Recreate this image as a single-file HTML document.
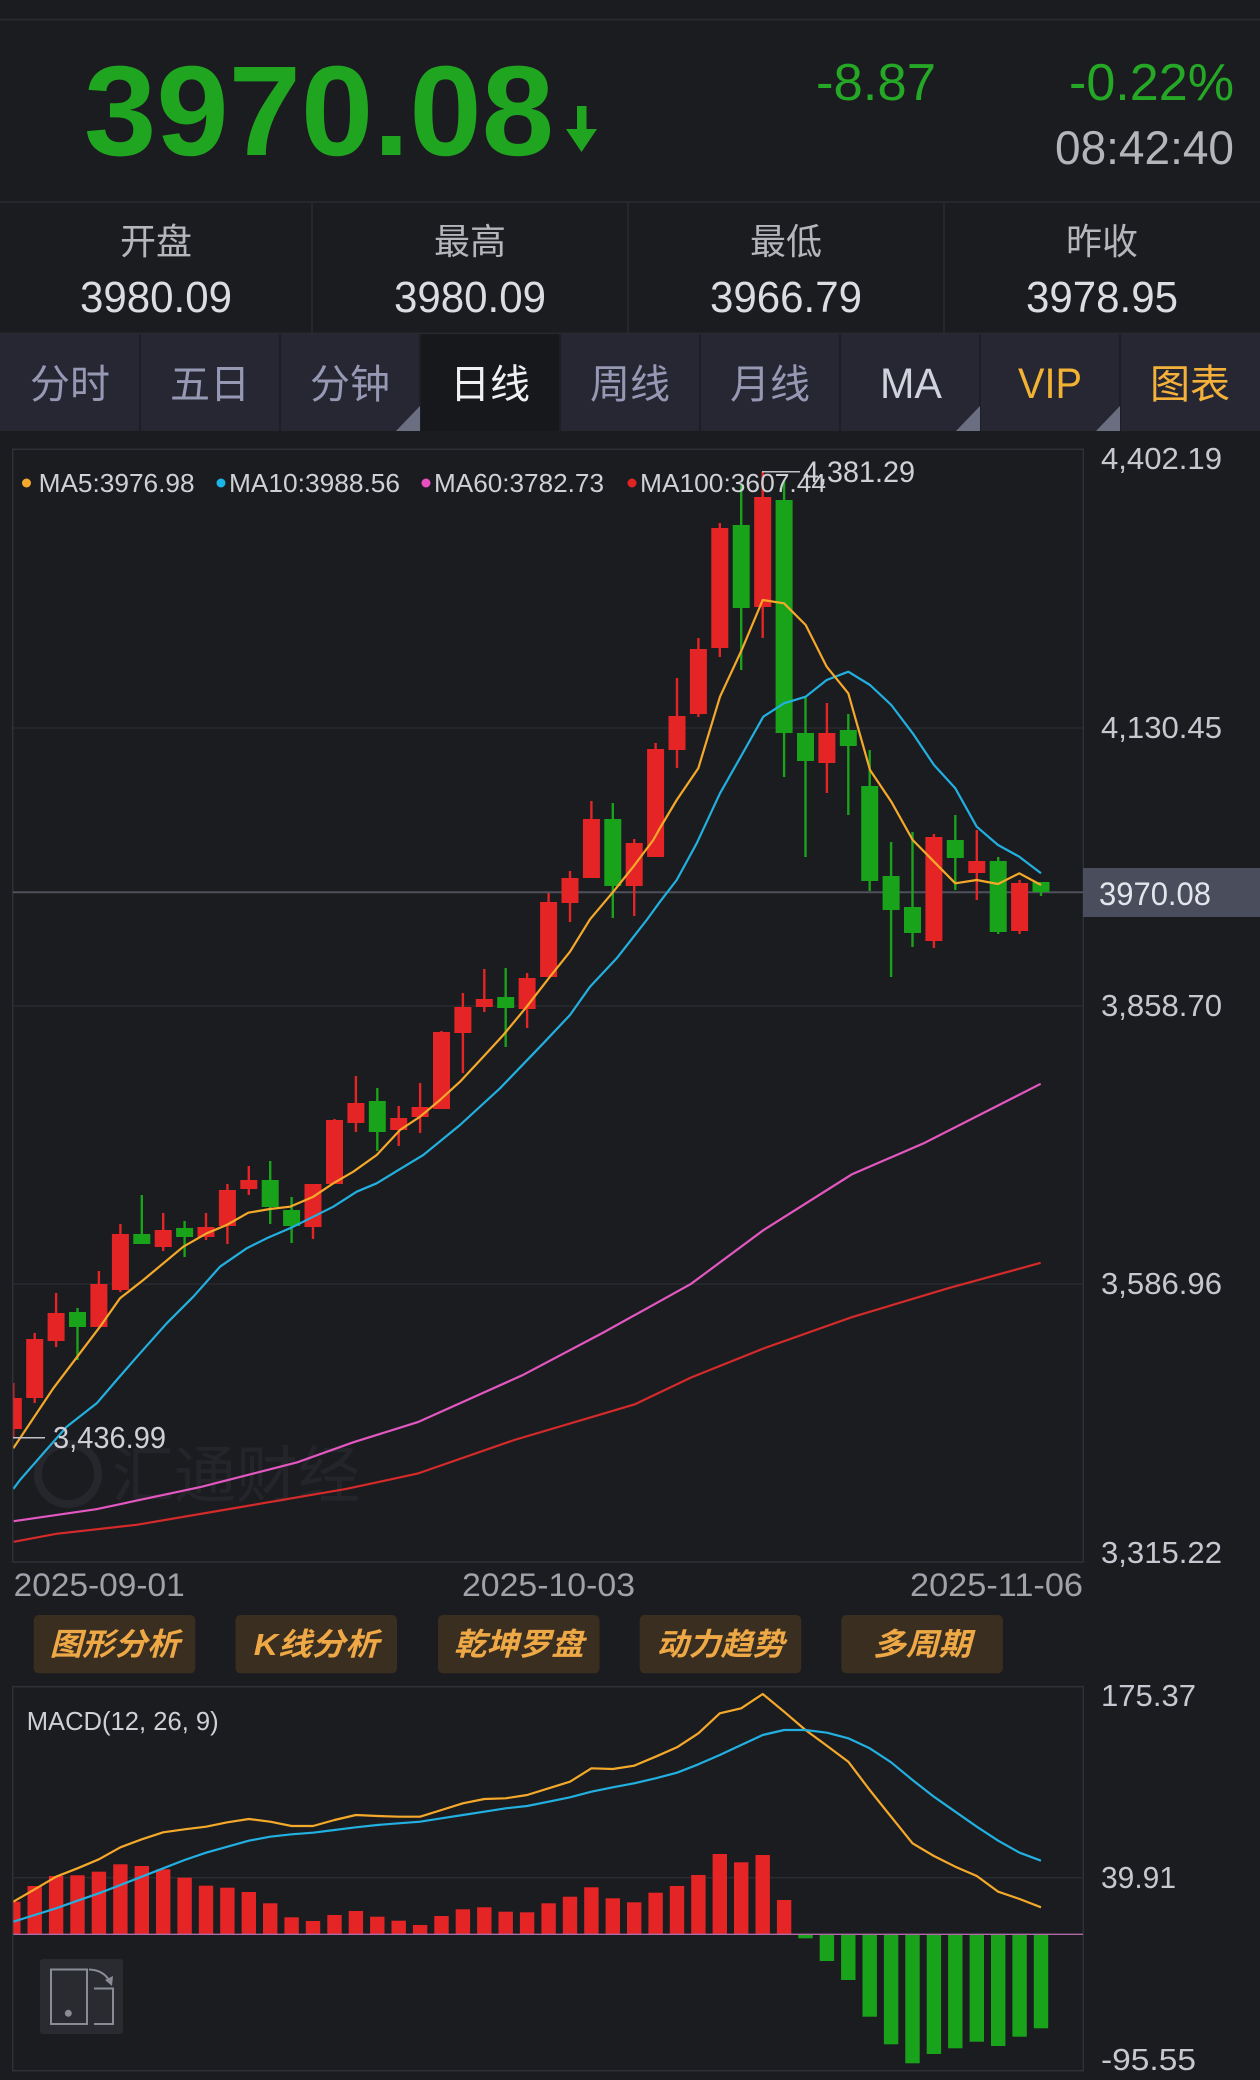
<!DOCTYPE html>
<html><head><meta charset="utf-8"><style>
html,body{margin:0;padding:0;background:#1b1c20;}
svg{display:block;}
text{font-family:"Liberation Sans","Noto Sans CJK SC",sans-serif;}
</style></head><body>
<svg width="1260" height="2080" viewBox="0 0 1260 2080" xmlns="http://www.w3.org/2000/svg">
<defs>
<clipPath id="cc"><rect x="13.3" y="450" width="1070" height="1112"/></clipPath>
<clipPath id="mc"><rect x="13.3" y="1687" width="1070" height="384"/></clipPath>
</defs>
<rect x="0" y="0" width="1260" height="2080" fill="#1b1c20"/>
<!-- header -->
<line x1="0" y1="19.5" x2="1260" y2="19.5" stroke="#2a2b31" stroke-width="1.5"/>
<text x="84" y="155" font-size="128" font-weight="bold" fill="#1fa51f" textLength="470" lengthAdjust="spacingAndGlyphs">3970.08</text>
<rect x="577" y="106" width="9.5" height="28" fill="#1fa51f"/>
<polygon points="566,129 597,129 581.5,152" fill="#1fa51f"/>
<text x="816" y="100" font-size="52" fill="#25a825" textLength="120" lengthAdjust="spacingAndGlyphs">-8.87</text>
<text x="1069" y="100" font-size="52" fill="#25a825" textLength="165" lengthAdjust="spacingAndGlyphs">-0.22%</text>
<text x="1055" y="164" font-size="47" fill="#b4b5bb" textLength="179" lengthAdjust="spacingAndGlyphs">08:42:40</text>
<line x1="0" y1="202" x2="1260" y2="202" stroke="#2a2b31" stroke-width="1.5"/>
<g stroke="#2a2b31" stroke-width="1.5">
<line x1="312" y1="202" x2="312" y2="333"/><line x1="628" y1="202" x2="628" y2="333"/><line x1="944" y1="202" x2="944" y2="333"/>
</g>
<g font-size="36" fill="#b5b6bb" text-anchor="middle">
<text x="156" y="254">开盘</text><text x="470" y="254">最高</text><text x="786" y="254">最低</text><text x="1102" y="254">昨收</text>
</g>
<g font-size="44" fill="#dcdde2" text-anchor="middle">
<text x="156" y="312" textLength="152" lengthAdjust="spacingAndGlyphs">3980.09</text>
<text x="470" y="312" textLength="152" lengthAdjust="spacingAndGlyphs">3980.09</text>
<text x="786" y="312" textLength="152" lengthAdjust="spacingAndGlyphs">3966.79</text>
<text x="1102" y="312" textLength="152" lengthAdjust="spacingAndGlyphs">3978.95</text>
</g>
<line x1="0" y1="333.5" x2="1260" y2="333.5" stroke="#2a2b31" stroke-width="1.5"/>
<!-- tabs -->
<rect x="0" y="334" width="1260" height="97" fill="#262733"/>
<rect x="420" y="334" width="140" height="97" fill="#17181c"/>
<g stroke="#1d1e26" stroke-width="2">
<line x1="140" y1="334" x2="140" y2="431"/><line x1="280" y1="334" x2="280" y2="431"/><line x1="420" y1="334" x2="420" y2="431"/><line x1="560" y1="334" x2="560" y2="431"/><line x1="700" y1="334" x2="700" y2="431"/><line x1="840" y1="334" x2="840" y2="431"/><line x1="980" y1="334" x2="980" y2="431"/><line x1="1120" y1="334" x2="1120" y2="431"/>
</g>
<g fill="#6b6e80">
<polygon points="396,431 420,431 420,406"/>
<polygon points="956,431 980,431 980,406"/>
<polygon points="1096,431 1120,431 1120,406"/>
</g>
<g font-size="40" text-anchor="middle" fill="#9698b4">
<text x="70" y="398">分时</text><text x="210" y="398">五日</text><text x="350" y="398">分钟</text>
<text x="490" y="398" fill="#f0f0f4">日线</text>
<text x="630" y="398">周线</text><text x="770" y="398">月线</text>
<text x="1190" y="398" fill="#f5b23a">图表</text>
</g>
<text x="911" y="398" font-size="43" text-anchor="middle" fill="#d0d2dc" textLength="62" lengthAdjust="spacingAndGlyphs">MA</text>
<text x="1050" y="398" font-size="43" text-anchor="middle" fill="#f2b233" textLength="64" lengthAdjust="spacingAndGlyphs">VIP</text>

<!-- main chart -->
<rect x="12.7" y="449.3" width="1070.6" height="1112.7" fill="none" stroke="#2f3139" stroke-width="1.5"/>
<g stroke="#2a2c33" stroke-width="1.3">
<line x1="13" y1="728" x2="1083" y2="728"/><line x1="13" y1="1006" x2="1083" y2="1006"/><line x1="13" y1="1284" x2="1083" y2="1284"/>
</g>
<!-- watermark -->
<g opacity="0.9">
<circle cx="68" cy="1474" r="30" fill="none" stroke="#28292e" stroke-width="8"/>
<text x="112" y="1497" font-size="62" fill="#26272c">汇通财经</text>
</g>
<line x1="13" y1="892.3" x2="1083" y2="892.3" stroke="#4e515c" stroke-width="2"/>
<g clip-path="url(#cc)">
<!-- MA100 / MA60 -->
<polyline fill="none" stroke="#d42a2a" stroke-width="2.2" points="13.7,1541.8 56.3,1533.8 136.6,1524.8 241.1,1507 345.5,1489.1 417.9,1473.5 514.3,1440 634.8,1404.3 691.1,1377.5 763.4,1348.5 851.8,1317.2 948.3,1288.2 1040.7,1262.8"/>
<polyline fill="none" stroke="#e257c0" stroke-width="2.2" points="13.7,1521.2 96.4,1509.2 200.9,1486.9 297.3,1462.3 353.6,1442.2 417.9,1422.1 522.3,1375.3 602.7,1332.9 691.1,1283.8 763.4,1230.2 851.8,1174.4 924.1,1143.1 1040.7,1083.8"/>
<!-- red candles -->
<g fill="#e52525" stroke="#e52525">
<g stroke-width="2.4">
<line x1="13.3" y1="1383" x2="13.3" y2="1437.7"/><line x1="34.7" y1="1333" x2="34.7" y2="1403"/><line x1="56.1" y1="1293" x2="56.1" y2="1347"/><line x1="98.9" y1="1271" x2="98.9" y2="1327"/><line x1="120.4" y1="1224" x2="120.4" y2="1292"/><line x1="163.2" y1="1213" x2="163.2" y2="1251"/><line x1="206" y1="1213" x2="206" y2="1240"/><line x1="227.4" y1="1184" x2="227.4" y2="1244"/><line x1="248.8" y1="1166" x2="248.8" y2="1195"/><line x1="313" y1="1184" x2="313" y2="1239"/><line x1="334.5" y1="1119" x2="334.5" y2="1184"/><line x1="355.9" y1="1076" x2="355.9" y2="1132"/><line x1="398.7" y1="1106" x2="398.7" y2="1146"/><line x1="420.1" y1="1083" x2="420.1" y2="1133"/><line x1="441.5" y1="1031" x2="441.5" y2="1109"/><line x1="462.9" y1="993" x2="462.9" y2="1073"/><line x1="484.3" y1="969" x2="484.3" y2="1012"/><line x1="527.1" y1="973" x2="527.1" y2="1028"/><line x1="548.6" y1="893" x2="548.6" y2="977"/><line x1="570" y1="871" x2="570" y2="922"/><line x1="591.4" y1="801" x2="591.4" y2="878"/><line x1="634.2" y1="839" x2="634.2" y2="916"/><line x1="655.6" y1="743" x2="655.6" y2="857"/><line x1="677" y1="678" x2="677" y2="768"/><line x1="698.4" y1="638" x2="698.4" y2="717"/><line x1="719.8" y1="523" x2="719.8" y2="657"/><line x1="762.7" y1="471.7" x2="762.7" y2="638"/><line x1="826.9" y1="703" x2="826.9" y2="793"/><line x1="933.9" y1="834" x2="933.9" y2="948"/><line x1="976.8" y1="830" x2="976.8" y2="900"/><line x1="1019.6" y1="880" x2="1019.6" y2="934"/>
</g>
<g stroke="none">
<rect x="4.8" y="1398" width="17" height="31"/><rect x="26.2" y="1339" width="17" height="59"/><rect x="47.6" y="1313" width="17" height="28"/><rect x="90.4" y="1284" width="17" height="43"/><rect x="111.9" y="1234" width="17" height="56"/><rect x="154.7" y="1230" width="17" height="17"/><rect x="197.5" y="1227" width="17" height="10"/><rect x="218.9" y="1190" width="17" height="36"/><rect x="240.3" y="1180" width="17" height="9"/><rect x="304.5" y="1184" width="17" height="43"/><rect x="326" y="1120" width="17" height="64"/><rect x="347.4" y="1103" width="17" height="20"/><rect x="390.2" y="1118" width="17" height="12"/><rect x="411.6" y="1107" width="17" height="10"/><rect x="433" y="1032" width="17" height="77"/><rect x="454.4" y="1007" width="17" height="26"/><rect x="475.8" y="999" width="17" height="8"/><rect x="518.6" y="978" width="17" height="31"/><rect x="540.1" y="902" width="17" height="75"/><rect x="561.5" y="878" width="17" height="25"/><rect x="582.9" y="819" width="17" height="59"/><rect x="625.7" y="843" width="17" height="43"/><rect x="647.1" y="749" width="17" height="108"/><rect x="668.5" y="716" width="17" height="34"/><rect x="689.9" y="649" width="17" height="65"/><rect x="711.3" y="528" width="17" height="120"/><rect x="754.2" y="497" width="17" height="110"/><rect x="818.4" y="733" width="17" height="30"/><rect x="925.4" y="837" width="17" height="104"/><rect x="968.3" y="861" width="17" height="12"/><rect x="1011.1" y="883" width="17" height="48"/>
</g>
</g>
<!-- green candles -->
<g fill="#19a31a" stroke="#19a31a">
<g stroke-width="2.4">
<line x1="77.5" y1="1308" x2="77.5" y2="1360"/><line x1="141.8" y1="1195" x2="141.8" y2="1244"/><line x1="184.6" y1="1221" x2="184.6" y2="1257"/><line x1="270.2" y1="1161" x2="270.2" y2="1224"/><line x1="291.6" y1="1197" x2="291.6" y2="1243"/><line x1="377.3" y1="1088" x2="377.3" y2="1151"/><line x1="505.7" y1="968" x2="505.7" y2="1047"/><line x1="612.8" y1="803" x2="612.8" y2="918"/><line x1="741.2" y1="485" x2="741.2" y2="670"/><line x1="784.1" y1="480" x2="784.1" y2="777"/><line x1="805.5" y1="697" x2="805.5" y2="857"/><line x1="848.3" y1="714" x2="848.3" y2="815"/><line x1="869.7" y1="750" x2="869.7" y2="891"/><line x1="891.1" y1="842" x2="891.1" y2="977"/><line x1="912.5" y1="832" x2="912.5" y2="947"/><line x1="955.3" y1="815" x2="955.3" y2="890"/><line x1="998.2" y1="857" x2="998.2" y2="934"/><line x1="1041" y1="882" x2="1041" y2="896"/>
</g>
<g stroke="none">
<rect x="69" y="1312" width="17" height="15"/><rect x="133.3" y="1234" width="17" height="10"/><rect x="176.1" y="1228" width="17" height="9"/><rect x="261.7" y="1180" width="17" height="27"/><rect x="283.1" y="1210" width="17" height="16"/><rect x="368.8" y="1101" width="17" height="31"/><rect x="497.2" y="997" width="17" height="11"/><rect x="604.3" y="819" width="17" height="67"/><rect x="732.7" y="525" width="17" height="83"/><rect x="775.6" y="500" width="17" height="233"/><rect x="797" y="733" width="17" height="28"/><rect x="839.8" y="730" width="17" height="16"/><rect x="861.2" y="786" width="17" height="95"/><rect x="882.6" y="876" width="17" height="34"/><rect x="904" y="907" width="17" height="26"/><rect x="946.8" y="840" width="17" height="18"/><rect x="989.7" y="861" width="17" height="71"/><rect x="1032.5" y="882" width="17" height="10"/>
</g>
</g>
<!-- MA10 -->
<polyline fill="none" stroke="#22b0e0" stroke-width="2.2" stroke-linejoin="round" points="13.3,1489 20,1480 43.3,1453.3 66.7,1426.7 96.7,1403.3 116.7,1380 140,1353.3 166.7,1323.3 193.3,1296.7 220,1266.7 246.7,1248.3 266.7,1238.3 290,1228.3 313.3,1216.7 333.3,1206.7 356.7,1191.7 376.7,1183.3 400,1169 423.3,1155 460,1125 500,1088.3 543.3,1043.3 570,1015 590,986.7 616.7,958.3 646.7,920 660,901.7 676.7,880 696.7,843.3 720,793.3 741.7,755 763.3,716.7 784,703.3 805.7,696.7 826.7,680 848.3,671.7 870,685 891.3,705 912.7,733.3 934,765 955.3,788.3 976.7,826.7 998,845 1019.3,856.7 1041,873.3"/>
<!-- MA5 -->
<polyline fill="none" stroke="#f5a92a" stroke-width="2.2" stroke-linejoin="round" points="13.3,1448.3 53.3,1388.3 100,1326.7 120,1298.3 143.3,1280 183.3,1246.7 206.7,1233.3 226.7,1225 248.3,1212.7 270,1209 290,1206.7 313.3,1196.7 333.3,1183.3 353.3,1171.7 376.7,1155 400,1130 420,1116.7 440,1100 460,1081.7 483.3,1056.7 503.3,1035 526.7,1006.7 550,976.7 570,951.7 590,919.3 613.3,891.7 633.3,866.7 653.3,840 660,828 676.7,800 698.3,768.3 720,696.7 741.7,650 762.7,600 784,603.3 805.7,625 826.7,666.7 848.3,693.3 870,770 891.3,801.7 912.7,840 934,861.7 955.3,883.3 976.7,880 998,884 1019.3,873.3 1041,885"/>
</g>
<!-- legend -->
<g font-size="26" fill="#cfd0d6">
<circle cx="26.5" cy="483" r="4.5" fill="#f5a92a"/>
<text x="38.6" y="492" textLength="156" lengthAdjust="spacingAndGlyphs">MA5:3976.98</text>
<circle cx="221" cy="483" r="4.5" fill="#1ab6e8"/>
<text x="229" y="492" textLength="171" lengthAdjust="spacingAndGlyphs">MA10:3988.56</text>
<circle cx="426" cy="483" r="4.5" fill="#e84fc0"/>
<text x="434" y="492" textLength="170" lengthAdjust="spacingAndGlyphs">MA60:3782.73</text>
<circle cx="632" cy="483" r="4.5" fill="#e02424"/>
<text x="640" y="492" textLength="186" lengthAdjust="spacingAndGlyphs">MA100:3607.44</text>
</g>
<line x1="762" y1="471.7" x2="800" y2="471.7" stroke="#c0c1c8" stroke-width="1.5"/>
<text x="803" y="482" font-size="30" fill="#cfd0d6" textLength="112" lengthAdjust="spacingAndGlyphs">4,381.29</text>
<line x1="13" y1="1437.7" x2="45" y2="1437.7" stroke="#c0c1c8" stroke-width="1.5"/>
<text x="53" y="1448" font-size="31" fill="#cfd0d6" textLength="113" lengthAdjust="spacingAndGlyphs">3,436.99</text>
<!-- axis labels -->
<g font-size="31" fill="#c6c7cf">
<text x="1101" y="469" textLength="121" lengthAdjust="spacingAndGlyphs">4,402.19</text>
<text x="1101" y="738" textLength="121" lengthAdjust="spacingAndGlyphs">4,130.45</text>
<text x="1101" y="1016" textLength="121" lengthAdjust="spacingAndGlyphs">3,858.70</text>
<text x="1101" y="1294" textLength="121" lengthAdjust="spacingAndGlyphs">3,586.96</text>
<text x="1101" y="1563" textLength="121" lengthAdjust="spacingAndGlyphs">3,315.22</text>
</g>
<rect x="1083" y="868" width="177" height="49" fill="#4a4d5b"/>
<text x="1099" y="905" font-size="32" fill="#e4e5ec" textLength="112" lengthAdjust="spacingAndGlyphs">3970.08</text>
<g font-size="32" fill="#a0a1a9">
<text x="13.7" y="1596" textLength="171" lengthAdjust="spacingAndGlyphs">2025-09-01</text>
<text x="462" y="1596" textLength="173" lengthAdjust="spacingAndGlyphs">2025-10-03</text>
<text x="910" y="1596" textLength="173" lengthAdjust="spacingAndGlyphs">2025-11-06</text>
</g>
<!-- buttons -->
<g fill="#3a2e20">
<rect x="33.8" y="1615" width="161.5" height="58.3" rx="5"/>
<rect x="235.5" y="1615" width="161.5" height="58.3" rx="5"/>
<rect x="438" y="1615" width="161.5" height="58.3" rx="5"/>
<rect x="639.7" y="1615" width="161.5" height="58.3" rx="5"/>
<rect x="841.4" y="1615" width="161.5" height="58.3" rx="5"/>
</g>
<g font-size="31" font-weight="bold" fill="#eea845" text-anchor="middle" font-style="italic">
<text x="114.6" y="1655" textLength="130" lengthAdjust="spacingAndGlyphs">图形分析</text>
<text x="316.3" y="1655" textLength="125" lengthAdjust="spacingAndGlyphs">K线分析</text>
<text x="518.8" y="1655" textLength="130" lengthAdjust="spacingAndGlyphs">乾坤罗盘</text>
<text x="720.5" y="1655" textLength="128" lengthAdjust="spacingAndGlyphs">动力趋势</text>
<text x="922.2" y="1655" textLength="98" lengthAdjust="spacingAndGlyphs">多周期</text>
</g>
<!-- MACD -->
<rect x="12.7" y="1686.7" width="1070.6" height="384" fill="none" stroke="#2f3139" stroke-width="1.5"/>
<line x1="13" y1="1877.7" x2="1083" y2="1877.7" stroke="#2a2c33" stroke-width="1.3"/>
<text x="26.7" y="1730" font-size="26" fill="#cfd0d6" textLength="192" lengthAdjust="spacingAndGlyphs">MACD(12, 26, 9)</text>
<g font-size="31" fill="#c6c7cf">
<text x="1101" y="1706" textLength="95" lengthAdjust="spacingAndGlyphs">175.37</text>
<text x="1101" y="1888" textLength="75" lengthAdjust="spacingAndGlyphs">39.91</text>
<text x="1101" y="2070" textLength="95" lengthAdjust="spacingAndGlyphs">-95.55</text>
</g>
<g clip-path="url(#mc)">
<g fill="#e52525">
<rect x="6.1" y="1901.7" width="14.4" height="32.6"/><rect x="27.5" y="1886" width="14.4" height="48.3"/><rect x="48.9" y="1876" width="14.4" height="58.3"/><rect x="70.3" y="1875.3" width="14.4" height="59"/><rect x="91.7" y="1871.7" width="14.4" height="62.6"/><rect x="113.2" y="1864.3" width="14.4" height="70"/><rect x="134.6" y="1866" width="14.4" height="68.3"/><rect x="156" y="1869.3" width="14.4" height="65"/><rect x="177.4" y="1877.7" width="14.4" height="56.6"/><rect x="198.8" y="1885.7" width="14.4" height="48.6"/><rect x="220.2" y="1887.7" width="14.4" height="46.6"/><rect x="241.6" y="1892" width="14.4" height="42.3"/><rect x="263" y="1903.3" width="14.4" height="31"/><rect x="284.4" y="1917.3" width="14.4" height="17"/><rect x="305.8" y="1921" width="14.4" height="13.3"/><rect x="327.3" y="1915" width="14.4" height="19.3"/><rect x="348.7" y="1911" width="14.4" height="23.3"/><rect x="370.1" y="1916.7" width="14.4" height="17.6"/><rect x="391.5" y="1920.7" width="14.4" height="13.6"/><rect x="412.9" y="1925" width="14.4" height="9.3"/><rect x="434.3" y="1916" width="14.4" height="18.3"/><rect x="455.7" y="1909.3" width="14.4" height="25"/><rect x="477.1" y="1907.3" width="14.4" height="27"/><rect x="498.5" y="1911.7" width="14.4" height="22.6"/><rect x="519.9" y="1912.3" width="14.4" height="22"/><rect x="541.4" y="1903.3" width="14.4" height="31"/><rect x="562.8" y="1896.7" width="14.4" height="37.6"/><rect x="584.2" y="1887.3" width="14.4" height="47"/><rect x="605.6" y="1898.3" width="14.4" height="36"/><rect x="627" y="1902.3" width="14.4" height="32"/><rect x="648.4" y="1892.7" width="14.4" height="41.6"/><rect x="669.8" y="1886" width="14.4" height="48.3"/><rect x="691.2" y="1875" width="14.4" height="59.3"/><rect x="712.6" y="1854" width="14.4" height="80.3"/><rect x="734" y="1862.3" width="14.4" height="72"/><rect x="755.5" y="1855" width="14.4" height="79.3"/><rect x="776.9" y="1900" width="14.4" height="34.3"/>
</g>
<g fill="#19a31a">
<rect x="798.3" y="1934.3" width="14.4" height="4"/><rect x="819.7" y="1934.3" width="14.4" height="26.7"/><rect x="841.1" y="1934.3" width="14.4" height="45.7"/><rect x="862.5" y="1934.3" width="14.4" height="82.4"/><rect x="883.9" y="1934.3" width="14.4" height="110"/><rect x="905.3" y="1934.3" width="14.4" height="129"/><rect x="926.7" y="1934.3" width="14.4" height="119.7"/><rect x="948.1" y="1934.3" width="14.4" height="114"/><rect x="969.6" y="1934.3" width="14.4" height="107.4"/><rect x="991" y="1934.3" width="14.4" height="111.7"/><rect x="1012.4" y="1934.3" width="14.4" height="102.4"/><rect x="1033.8" y="1934.3" width="14.4" height="94"/>
</g>
<line x1="13" y1="1934.3" x2="1083" y2="1934.3" stroke="#b06aa8" stroke-width="1.3"/>
<polyline fill="none" stroke="#f5a92a" stroke-width="2.2" stroke-linejoin="round" points="13.3,1901.7 34.7,1889.3 56.1,1876.7 77.5,1868.3 98.9,1859.3 120.4,1847.3 141.8,1839.3 163.2,1832.3 184.6,1829.3 206,1826.7 227.4,1822.3 248.8,1819 270.2,1821.7 291.6,1826 313,1826 334.5,1820 355.9,1815 377.3,1816 398.7,1816.7 420.1,1816.7 441.5,1810 462.9,1803.3 484.3,1799 505.7,1798.3 527.1,1795 548.6,1788.3 570,1781.7 591.4,1768.3 612.8,1769 634.2,1765.7 655.6,1756.7 677,1747.3 698.4,1733.3 719.8,1713.3 741.2,1708.3 762.7,1694 784.1,1711.7 805.5,1730 826.9,1745.7 848.3,1761.7 869.7,1790 891.1,1816.7 912.5,1843.3 933.9,1856 955.3,1866.7 976.8,1876 998.2,1891.7 1019.6,1899 1041,1907.3"/>
<polyline fill="none" stroke="#22b0e0" stroke-width="2.2" stroke-linejoin="round" points="13.3,1921.7 34.7,1915 56.1,1908.3 77.5,1900.7 98.9,1893.3 120.4,1885 141.8,1876.7 163.2,1868.3 184.6,1860 206,1852.7 227.4,1846.7 248.8,1840.7 270.2,1836.7 291.6,1834.3 313,1832.7 334.5,1830 355.9,1827.3 377.3,1825 398.7,1823.3 420.1,1821.7 441.5,1818.3 462.9,1815 484.3,1811.7 505.7,1808.3 527.1,1806 548.6,1801.7 570,1797.3 591.4,1791.7 612.8,1787.3 634.2,1783.3 655.6,1778.3 677,1772.7 698.4,1764.3 719.8,1755 741.2,1745 762.7,1735 784.1,1730 805.5,1730 826.9,1732.7 848.3,1738.3 869.7,1748.3 891.1,1762.3 912.5,1780 933.9,1796.7 955.3,1811.7 976.8,1826.7 998.2,1840.7 1019.6,1852.7 1041,1860.7"/>
</g>
<!-- rotate icon -->
<rect x="40" y="1959" width="83" height="75" rx="3" fill="#2a2b31"/>
<g fill="none" stroke="#8a8c95" stroke-width="2">
<rect x="51" y="1969.5" width="36" height="54.5"/>
<polyline points="94,1988.5 113,1988.5 113,2024 94,2024"/>
<path d="M89,1969.5 Q104,1970 110,1982"/>
</g>
<polygon points="105,1980 113,1976 112,1986" fill="#8a8c95"/>
<circle cx="68.3" cy="2013.3" r="3.5" fill="#8a8c95"/>
</svg>
</body></html>
